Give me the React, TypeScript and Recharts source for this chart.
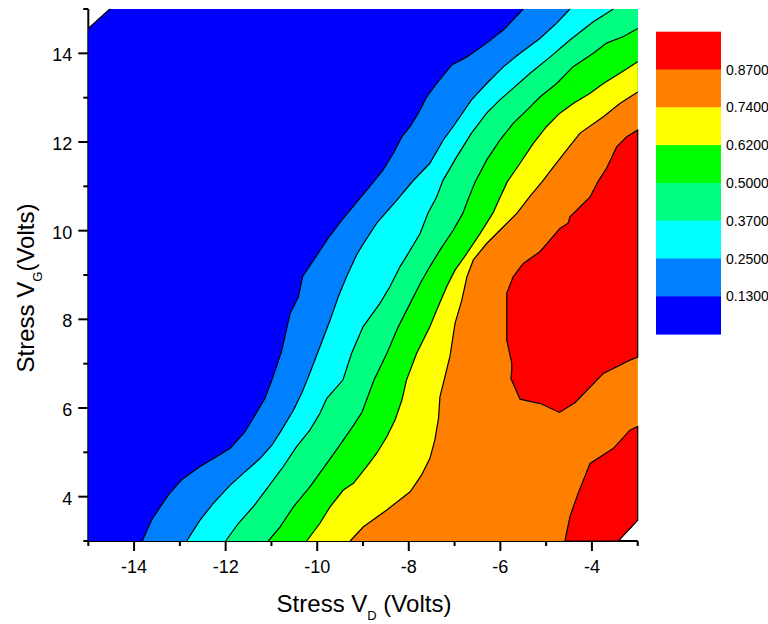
import { ComposedChart, Scatter, XAxis, YAxis } from 'recharts'

const FONT = 'Liberation Sans, Arial, sans-serif'

const xTicks = [-15, -14, -13, -12, -11, -10, -9, -8, -7, -6, -5, -4, -3]
const yTicks = [3, 4, 5, 6, 7, 8, 9, 10, 11, 12, 13, 14, 15]

// colour bar, top to bottom
const legendColors = ['#FF0000', '#FF8000', '#FFFF00', '#00FF00', '#00FF80', '#00FFFF', '#0080FF', '#0000FF']
const legendLabels = ['0.8700', '0.7400', '0.6200', '0.5000', '0.3700', '0.2500', '0.1300']

// contour lines, from the bottom edge up to the top / right edge
const c013X = [-13.82, -13.62, -13.43, -13.22, -12.96, -12.56, -12.2, -11.9, -11.58, -11.4, -11.14, -10.99, -10.78, -10.59, -10.41, -10.32, -10.05, -9.76, -9.43, -9.1, -8.77, -8.56, -8.34, -8.15, -7.97, -7.79, -7.61, -7.39, -7.06, -6.73, -6.3, -5.93, -5.5]
const c013Y = [3, 3.47, 3.77, 4.08, 4.38, 4.68, 4.9, 5.09, 5.46, 5.77, 6.22, 6.63, 7.27, 8.14, 8.51, 8.96, 9.38, 9.83, 10.28, 10.69, 11.1, 11.37, 11.74, 12.12, 12.35, 12.65, 13.02, 13.32, 13.74, 13.92, 14.23, 14.53, 15]

const c025X = [-12.85, -12.56, -12.27, -11.9, -11.61, -11.25, -10.99, -10.78, -10.52, -10.34, -10.19, -9.94, -9.72, -9.54, -9.36, -9.14, -8.99, -8.7, -8.26, -7.91, -7.54, -7.25, -7.03, -6.63, -6.3, -5.93, -5.57, -5.13, -4.77, -4.48]
const c025Y = [3, 3.47, 3.85, 4.26, 4.53, 4.86, 5.16, 5.5, 5.95, 6.33, 6.71, 7.38, 7.98, 8.51, 8.96, 9.45, 9.71, 10.17, 10.69, 11.12, 11.52, 12.04, 12.35, 12.95, 13.32, 13.7, 14, 14.34, 14.68, 15]

const c037X = [-12, -11.72, -11.4, -11.07, -10.74, -10.45, -10.16, -9.94, -9.79, -9.44, -9.25, -9, -8.63, -8.41, -8.19, -8.01, -7.75, -7.58, -7.4, -7.25, -6.95, -6.63, -6.3, -6.01, -5.68, -5.35, -4.91, -4.48, -3.97, -3.53]
const c037Y = [3, 3.4, 3.77, 4.22, 4.68, 5.13, 5.5, 5.88, 6.22, 6.63, 7.23, 7.83, 8.36, 8.74, 9.19, 9.49, 9.94, 10.4, 10.74, 11.14, 11.67, 12.2, 12.65, 12.95, 13.25, 13.55, 13.92, 14.3, 14.71, 15]

const c050X = [-11.07, -10.81, -10.52, -10.16, -9.79, -9.46, -9.2, -9.02, -8.89, -8.76, -8.48, -8.23, -7.97, -7.75, -7.54, -7.32, -7.03, -6.82, -6.71, -6.55, -6.3, -6.01, -5.72, -5.42, -5.13, -4.77, -4.41, -3.97, -3.68, -3.31, -3]
const c050Y = [3, 3.32, 3.77, 4.22, 4.75, 5.23, 5.62, 5.91, 6.27, 6.63, 7.23, 7.83, 8.36, 8.81, 9.19, 9.56, 10.01, 10.39, 10.69, 11.1, 11.59, 12.04, 12.42, 12.72, 13.02, 13.32, 13.7, 14, 14.23, 14.38, 14.56]

const c062X = [-10.23, -9.94, -9.72, -9.43, -9.21, -8.92, -8.7, -8.48, -8.3, -8.15, -8.05, -7.83, -7.54, -7.39, -7.17, -6.99, -6.73, -6.44, -6.16, -6.01, -5.85, -5.57, -5.28, -4.99, -4.7, -4.41, -4.04, -3.75, -3.39, -3]
const c062Y = [3, 3.4, 3.77, 4.15, 4.3, 4.68, 4.98, 5.35, 5.73, 6.18, 6.63, 7.23, 7.83, 8.21, 8.74, 9.11, 9.49, 9.94, 10.4, 10.74, 11.1, 11.52, 11.97, 12.35, 12.65, 12.87, 13.1, 13.32, 13.55, 13.81]

const c074X = [-9.28, -8.99, -8.48, -7.97, -7.72, -7.54, -7.43, -7.35, -7.32, -7.21, -7.1, -6.99, -6.84, -6.73, -6.59, -6.3, -6.01, -5.64, -5.35, -5.09, -4.84, -4.55, -4.26, -3.75, -3.39, -3]
const c074Y = [3, 3.32, 3.7, 4.11, 4.49, 4.86, 5.28, 5.77, 6.25, 6.71, 7.17, 7.91, 8.44, 8.96, 9.34, 9.71, 10.01, 10.39, 10.78, 11.1, 11.44, 11.82, 12.2, 12.57, 12.87, 13.13]

// 0.87 island against the right edge
const island087X = [-3, -3.24, -3.46, -3.68, -3.87, -4.04, -4.48, -4.52, -4.7, -5.13, -5.5, -5.72, -5.86, -5.86, -5.75, -5.75, -5.77, -5.57, -5.1, -4.71, -4.37, -3.75, -3.17, -3]
const island087Y = [12.27, 12.12, 11.89, 11.41, 11.1, 10.76, 10.31, 10.17, 10.05, 9.53, 9.26, 8.96, 8.59, 7.53, 7.01, 6.86, 6.67, 6.2, 6.09, 5.9, 6.12, 6.78, 7.08, 7.15]

// 0.87 patch in the lower right corner
const corner087X = [-3, -3.17, -3.53, -4.04, -4.3, -4.48, -4.59, -3.42, -3]
const corner087Y = [5.58, 5.5, 5.09, 4.75, 4.08, 3.55, 3, 3, 3.47]

// cut-off corners of the grid (no data there)
const cutTopLeftX = [-15, -14.53]
const cutTopLeftY = [14.56, 15]
const cutBottomRightX = [-3, -3.42]
const cutBottomRightY = [3.47, 3]

type Pt = { x: number; y: number }
const zip = (xs: number[], ys: number[]): Pt[] => xs.map((x, i) => ({ x, y: ys[i] }))

const topRight: Pt = { x: -3, y: 15 }
const bottomLeft: Pt = { x: -15, y: 3 }
const brCut = zip(cutBottomRightX, cutBottomRightY)

const regions = [
  { color: '#0000FF', data: [...zip(cutTopLeftX, cutTopLeftY), topRight, ...brCut, bottomLeft], edge: 2 },
  { color: '#0080FF', data: [...zip(c013X, c013Y), topRight, ...brCut], edge: c013X.length },
  { color: '#00FFFF', data: [...zip(c025X, c025Y), topRight, ...brCut], edge: c025X.length },
  { color: '#00FF80', data: [...zip(c037X, c037Y), topRight, ...brCut], edge: c037X.length },
  { color: '#00FF00', data: [...zip(c050X, c050Y), ...brCut], edge: c050X.length },
  { color: '#FFFF00', data: [...zip(c062X, c062Y), ...brCut], edge: c062X.length },
  { color: '#FF8000', data: [...zip(c074X, c074Y), ...brCut], edge: c074X.length },
  { color: '#FF0000', data: zip(island087X, island087Y), edge: -1 },
  { color: '#FF0000', data: zip(corner087X, corner087Y), edge: -1 },
]

const toStr = (pts: Pt[]) => pts.map((p) => `${p.x},${p.y}`).join(' ')

function regionLine(color: string, edge: number) {
  return (props: any) => {
    const pts: Pt[] = props.points ?? []
    return (
      <g>
        <polygon points={toStr(pts)} fill={color} stroke={edge < 0 ? '#000' : 'none'} strokeWidth={1.2} />
        {edge > 0 && (
          <polyline points={toStr(pts.slice(0, edge))} fill="none" stroke="#000" strokeWidth={1.2} />
        )}
      </g>
    )
  }
}

function XTick({ x, y, payload }: any) {
  const major = payload.value % 2 === 0
  return (
    <g>
      <line x1={x} x2={x} y1={y} y2={y + (major ? 10 : 5)} stroke="#000" strokeWidth={2} />
      {major && (
        <text x={x} y={y + 32} textAnchor="middle" fontSize={18} fontFamily={FONT} fill="#000">
          {payload.value}
        </text>
      )}
    </g>
  )
}

function YTick({ x, y, payload }: any) {
  const major = payload.value % 2 === 0
  return (
    <g>
      <line x1={x} x2={x - (major ? 10 : 5)} y1={y} y2={y} stroke="#000" strokeWidth={2} />
      {major && (
        <text x={x - 16} y={y + 8} textAnchor="end" fontSize={18} fontFamily={FONT} fill="#000">
          {payload.value}
        </text>
      )}
    </g>
  )
}

export default function App() {
  const barTop = 31.7
  const bandH = 37.8
  return (
    <div style={{ position: 'absolute', left: 0, top: 0, width: 768, height: 624, background: '#fff' }}>
      <ComposedChart width={768} height={624} margin={{ top: 9, right: 130.3, bottom: 23, left: 8.3 }}>
        {regions.map((r, i) => (
          <Scatter
            key={i}
            data={r.data}
            dataKey="y"
            line={regionLine(r.color, r.edge)}
            lineType="joint"
            shape={() => <g />}
            isAnimationActive={false}
            legendType="none"
          />
        ))}
        <XAxis
          type="number"
          dataKey="x"
          domain={[-15, -3]}
          ticks={xTicks}
          interval={0}
          height={60}
          tickSize={0}
          tickMargin={0}
          tickLine={false}
          axisLine={{ stroke: '#000', strokeWidth: 2 }}
          tick={<XTick />}
        />
        <YAxis
          type="number"
          dataKey="y"
          domain={[3, 15]}
          ticks={yTicks}
          interval={0}
          width={80}
          tickSize={0}
          tickMargin={0}
          tickLine={false}
          axisLine={{ stroke: '#000', strokeWidth: 2 }}
          tick={<YTick />}
        />
      </ComposedChart>
      <svg
        width={768}
        height={624}
        style={{ position: 'absolute', left: 0, top: 0, pointerEvents: 'none' }}
        fontFamily={FONT}
      >
        <text x={364} y={611.7} textAnchor="middle" fontSize={24} fill="#000">
          Stress V<tspan fontSize={13} dy={8}>D</tspan>
          <tspan dy={-8}> (Volts)</tspan>
        </text>
        <text transform="translate(34, 288) rotate(-90)" textAnchor="middle" fontSize={24} fill="#000">
          Stress V<tspan fontSize={13} dy={8}>G</tspan>
          <tspan dy={-8}>(Volts)</tspan>
        </text>
        {legendColors.map((c, i) => (
          <rect key={c} x={656} y={barTop + i * bandH} width={65} height={bandH + 0.5} fill={c} />
        ))}
        {legendLabels.map((l, i) => (
          <text key={l} x={726} y={barTop + (i + 1) * bandH + 5} fontSize={14} fill="#000">
            {l}
          </text>
        ))}
      </svg>
    </div>
  )
}
